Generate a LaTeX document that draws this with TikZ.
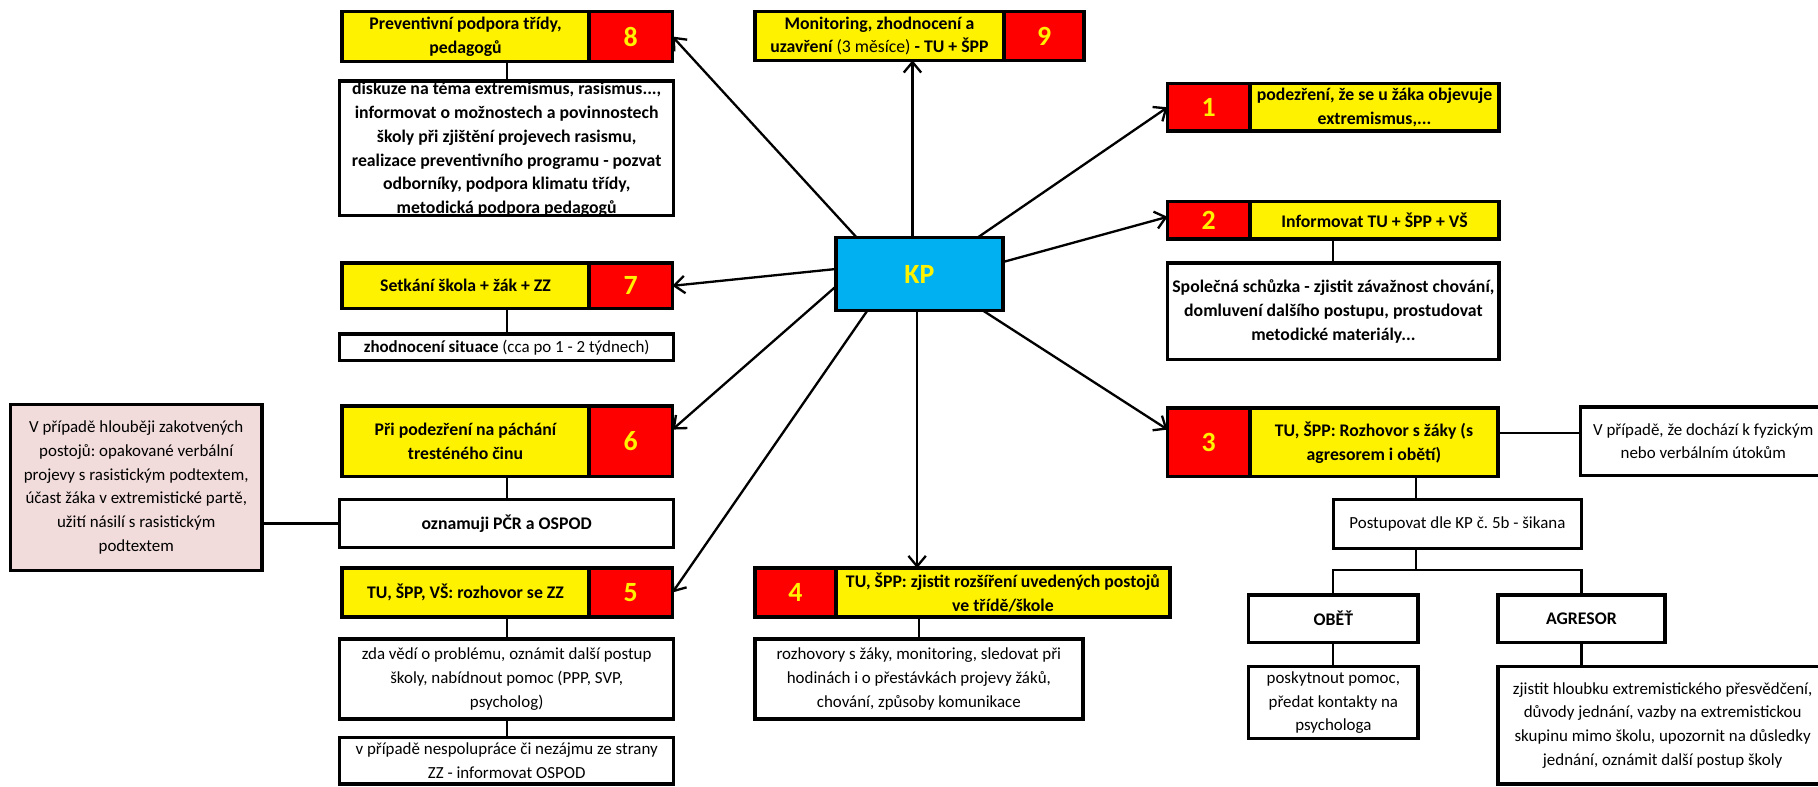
\documentclass[tikz,border=0pt]{standalone}
\usepackage{fontspec}
\setmainfont{Carlito}
\usetikzlibrary{arrows.meta,calc}
\definecolor{kpblue}{HTML}{00B0F0}
\definecolor{pinkbox}{HTML}{F2DCDB}
\frenchspacing
\begin{document}
\begin{tikzpicture}[x=1pt,y=-1pt,
  every node/.style={inner sep=1pt, outer sep=0pt, align=center, font=\fontsize{14.6}{20.5}\selectfont},
  bx/.style={draw=black, line width=3pt, anchor=north west},
  yb/.style={bx, fill=yellow, font=\bfseries\fontsize{15.3}{20.5}\selectfont},
  rb/.style={bx, fill=red, text=yellow, font=\bfseries\fontsize{24}{28}\selectfont},
  wb/.style={bx, fill=white},
  wbb/.style={bx, fill=white, font=\bfseries\fontsize{15.3}{20.5}\selectfont},
  ln/.style={line width=1.8pt},
  arr/.style={line width=2pt, -{Straight Barb[length=9pt,width=15pt]}}
]
\clip (0,0) rectangle (1568,678);
\fill[white] (0,0) rectangle (1568,678);

% ---- box 8
\node[yb, minimum width=213pt, minimum height=43pt] (y8) at (295,10) {Preventivní podpora třídy,\\pedagogů};
\node[rb, minimum width=72pt, minimum height=43pt] (r8) at (508,10) {8};
\node[bx, draw=none, fill=white, minimum width=288pt, minimum height=116pt] (d8) at (293,70) {};
\node[font=\bfseries\fontsize{15.3}{20.5}\selectfont] (d8t) at ($(d8.center)+(0,1)$) {diskuze na téma extremismus, rasismus...,\\informovat o možnostech a povinnostech\\školy při zjištění projevech rasismu,\\realizace preventivního programu - pozvat\\odborníky, podpora klimatu třídy,\\metodická podpora pedagogů};
\draw[line width=3pt] (d8.north west) rectangle (d8.south east);

% ---- box 9
\node[yb, minimum width=215pt, minimum height=42pt] (y9) at (651,10) {Monitoring, zhodnocení a\\uzavření {\mdseries (3 měsíce)} - TU + ŠPP};
\node[rb, minimum width=69pt, minimum height=42pt] (r9) at (866,10) {9};

% ---- KP
\node[bx, fill=kpblue, text=yellow, font=\bfseries\fontsize{24}{28}\selectfont, minimum width=144pt, minimum height=63pt] (kp) at (721,205) {KP};

% ---- box 1
\node[rb, minimum width=71pt, minimum height=41pt] (r1) at (1007,72) {1};
\node[yb, minimum width=215pt, minimum height=41pt] (y1) at (1078,72) {podezření, že se u žáka objevuje\\extremismus,...};

% ---- box 2
\node[rb, minimum width=71pt, minimum height=32pt] (r2) at (1007,174) {2};
\node[yb, minimum width=215pt, minimum height=32pt] (y2) at (1078,174) {Informovat TU + ŠPP + VŠ};
\node[wbb, minimum width=286pt, minimum height=83pt] (d2) at (1007,227) {Společná schůzka - zjistit závažnost chování,\\domluvení dalšího postupu, prostudovat\\metodické materiály...};

% ---- box 3
\node[rb, minimum width=71pt, minimum height=59pt] (r3) at (1007,352) {3};
\node[yb, minimum width=214pt, minimum height=59pt] (y3) at (1078,352) {TU, ŠPP: Rozhovor s žáky (s\\agresorem i obětí)};
\node[wb, minimum width=212pt, minimum height=59pt] (rt) at (1363,351) {V případě, že dochází k fyzickým\\nebo verbálním útokům};
\node[wb, minimum width=214pt, minimum height=42pt] (pst) at (1150,431) {Postupovat dle KP č. 5b - šikana};
\node[wbb, minimum width=146pt, minimum height=41pt] (ob) at (1077,513) {OBĚŤ};
\node[wbb, minimum width=144pt, minimum height=41pt] (ag) at (1292,513) {AGRESOR};
\node[wb, minimum width=146pt, minimum height=62pt] (po) at (1077,575) {poskytnout pomoc,\\předat kontakty na\\psychologa};
\node[wb, draw=none, minimum width=284pt, minimum height=101pt] (zj) at (1292,575) {zjistit hloubku extremistického přesvědčení,\\důvody jednání, vazby na extremistickou\\skupinu mimo školu, upozornit na důsledky\\jednání, oznámit další postup školy};
\draw[line width=3pt] (zj.north west) rectangle ($(zj.south east)+(30,0)$);

% ---- box 7
\node[yb, minimum width=213pt, minimum height=39pt] (y7) at (295,227) {Setkání škola + žák + ZZ};
\node[rb, minimum width=72pt, minimum height=39pt] (r7) at (508,227) {7};
\node[wb, minimum width=288pt, minimum height=23pt] (d7) at (293,288) {\textbf{zhodnocení situace} (cca po 1 - 2 týdnech)};

% ---- box 6
\node[yb, minimum width=213pt, minimum height=61pt] (y6) at (295,350) {Při podezření na páchání\\tresténého činu};
\node[rb, minimum width=72pt, minimum height=61pt] (r6) at (508,350) {6};
\node[wbb, minimum width=288pt, minimum height=41pt] (d6) at (293,431) {oznamuji PČR a OSPOD};
\node[bx, fill=pinkbox, minimum width=217pt, minimum height=143pt] (pk) at (9,349) {V případě hlouběji zakotvených\\postojů: opakované verbální\\projevy s rasistickým podtextem,\\účast žáka v extremistické partě,\\užití násilí s rasistickým\\podtextem};

% ---- box 5
\node[yb, minimum width=213pt, minimum height=42pt] (y5) at (295,490) {TU, ŠPP, VŠ: rozhovor se ZZ};
\node[rb, minimum width=72pt, minimum height=42pt] (r5) at (508,490) {5};
\node[wb, minimum width=288pt, minimum height=69pt] (d5) at (293,551) {zda vědí o problému, oznámit další postup\\školy, nabídnout pomoc (PPP, SVP,\\psycholog)};
\node[wb, minimum width=288pt, minimum height=40pt] (e5) at (293,636) {v případě nespolupráce či nezájmu ze strany\\ZZ - informovat OSPOD};

% ---- box 4
\node[rb, minimum width=70pt, minimum height=42pt] (r4) at (651,490) {4};
\node[yb, minimum width=288pt, minimum height=42pt] (y4) at (721,490) {TU, ŠPP: zjistit rozšíření uvedených postojů\\ve třídě/škole};
\node[wb, minimum width=283pt, minimum height=69pt] (d4) at (651,551) {rozhovory s žáky, monitoring, sledovat při\\hodinách i o přestávkách projevy žáků,\\chování, způsoby komunikace};

% ---- plain connectors
\draw[ln] (d8.north |- y8.south) -- (d8.north);
\draw[ln] (d2.north |- y2.south) -- (d2.north);
\draw[ln] (d7.north |- y7.south) -- (d7.north);
\draw[ln] (d6.north |- y6.south) -- (d6.north);
\draw[ln] (d6.west) -- (d6.west -| pk.east);
\draw[ln] (d5.north |- y5.south) -- (d5.north);
\draw[ln] (d5.south) -- (e5.north);
\draw[ln] (d4.north |- r4.south) -- (d4.north);
\coordinate (c3r) at ($(y3.east)+(0,-8)$);
\draw[ln] (c3r) -- (c3r -| rt.west);
\coordinate (j3) at (1221,0);
\coordinate (br) at (1221,492);
\draw[ln] (j3 |- y3.south) -- (j3 |- pst.north);
\draw[ln] (j3 |- pst.south) -- (br);
\draw[ln] (ob.north) |- (br) -| (ag.north);
\draw[ln] (ob.south) -- (po.north);
\draw[ln] (ag.south) -- (ag.south |- zj.north);

% ---- arrows from KP
\coordinate (a9) at ($(kp.north)+(-6,0)$);
\coordinate (a4) at ($(kp.south)+(-2,0)$);
\draw[arr] ($(kp.north west)+(18,0)$) -- (r8.east);
\draw[arr] (a9) -- (a9 |- y9.south);
\draw[arr] ($(kp.north east)+(-22,0)$) -- (r1.west);
\draw[arr] ($(kp.north east)+(0,21)$) -- ($(r2.west)+(0,-3)$);
\draw[arr] ($(kp.south east)+(-17,0)$) -- ($(r3.west)+(0,-11)$);
\draw[arr] (a4) -- (a4 |- y4.north);
\draw[arr] ($(kp.south west)+(27,0)$) -- (r5.east);
\draw[arr] ($(kp.south west)+(0,-21)$) -- ($(r6.east)+(0,-10)$);
\draw[arr] ($(kp.south west)+(0,-36)$) -- (r7.east);
\end{tikzpicture}
\end{document}
